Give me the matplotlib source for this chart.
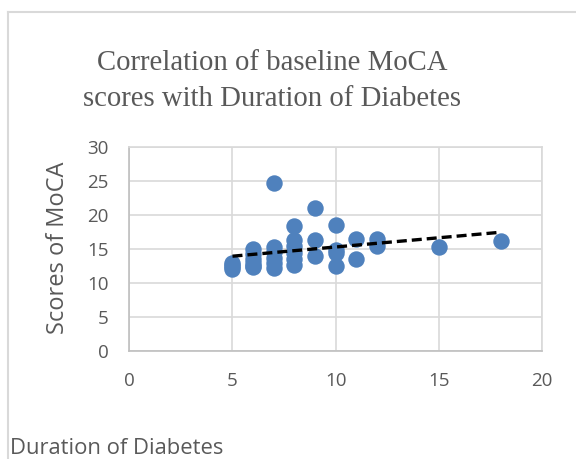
import numpy as np
import matplotlib.pyplot as plt

# duration of diabetes (years) and baseline MoCA score per patient
duration = [5, 5, 5, 5,
            6, 6, 6, 6, 6, 6,
            7, 7, 7, 7, 7, 7,
            8, 8, 8, 8, 8, 8,
            9, 9, 9,
            10, 10, 10, 10,
            11, 11,
            12, 12,
            15, 18]
moca = [13.0, 12.6, 12.3, 12.1,
        15.0, 14.3, 13.6, 12.9, 12.5, 12.3,
        24.8, 15.3, 14.5, 13.7, 12.9, 12.2,
        18.4, 16.4, 15.4, 14.4, 13.5, 12.6,
        21.0, 16.4, 14.0,
        18.5, 14.8, 14.4, 12.5,
        16.5, 13.5,
        16.5, 15.5,
        15.3, 16.2]
x_ticks = [0, 5, 10, 15, 20]
y_ticks = [0, 5, 10, 15, 20, 25, 30]

grey = '#595959'
fig = plt.figure(figsize=(5.76, 4.59), dpi=100)

# chart border (only top and left edges fall inside the frame)
fig.add_artist(plt.Line2D([8/576, 8/576], [0, 1 - 12/459], color='#d9d9d9', lw=1.5))
fig.add_artist(plt.Line2D([8/576, 1], [1 - 12/459, 1 - 12/459], color='#d9d9d9', lw=1.5))

ax = fig.add_axes([0.2245, 0.2359, 0.7165, 0.4431])
ax.scatter(duration, moca, s=140, color='#4f81bd', zorder=3, linewidths=0)

# linear trendline
slope, icpt = np.polyfit(duration, moca, 1)
xs = np.array([min(duration), max(duration)])
ax.plot(xs, slope * xs + icpt, color='black', lw=2.4, ls=(0, (3, 1.5)), zorder=4)

ax.set_xlim(0, 20)
ax.set_ylim(0, 30)
ax.set_xticks(x_ticks)
ax.set_yticks(y_ticks)
ax.grid(True, color='#d9d9d9', lw=1.2)
ax.set_axisbelow(True)
for s in ax.spines.values():
    s.set_color('#d9d9d9')
    s.set_linewidth(1.2)
ax.spines['bottom'].set_color('#bfbfbf')
ax.spines['left'].set_color('#bfbfbf')
ax.tick_params(length=0, labelsize=13.5, colors=grey, pad=15)
for lbl in ax.get_xticklabels() + ax.get_yticklabels():
    lbl.set_family('Open Sans')

fig.text(58/576, 1 - 248/459, 'Scores of MoCA', fontsize=17, color=grey, family='Open Sans',
         rotation=90, ha='center', va='center')

fig.text(272/576, 1 - 81/459, 'Correlation of baseline MoCA\nscores with Duration of Diabetes',
         ha='center', va='center', fontsize=20.7, color=grey,
         family='Liberation Serif', linespacing=1.5)
fig.text(10/576, 1 - 448/459, 'Duration of Diabetes', fontsize=15.8, color=grey,
         family='Open Sans', ha='left', va='center')

fig.savefig('out.png', dpi=100)
